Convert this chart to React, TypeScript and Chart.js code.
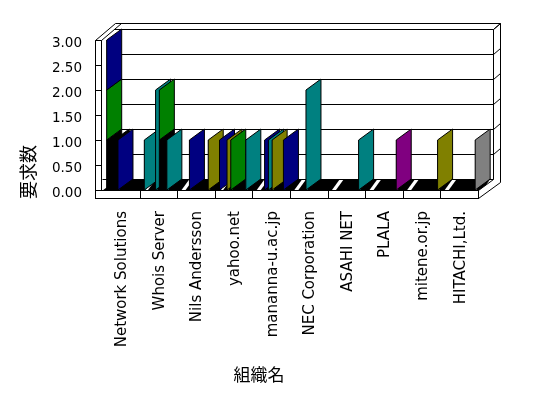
import React, { useEffect, useRef } from "react";
import { Chart, registerables } from "chart.js";

Chart.register(...registerables);

// ---------- data ----------
const categories = [
  "Network Solutions",
  "Whois Server",
  "Nils Andersson",
  "yahoo.net",
  "mananna-u.ac.jp",
  "NEC Corporation",
  "ASAHI NET",
  "PLALA",
  "mitene.or.jp",
  "HITACHI,Ltd.",
];
const yTicks = [0, 0.5, 1, 1.5, 2, 2.5, 3];
const yTitle = "要求数";
const xTitle = "組織名";

// values per category for each series (series grouped in depth slots s0..s9)
const emptySeries = [0, 0, 0, 0, 0, 0, 0, 0, 0, 0];
const s1Black = [1, 0, 0, 0, 0, 0, 0, 0, 0, 0];
const s1Green = [1, 0, 0, 0, 0, 0, 0, 0, 0, 0];
const s1Navy = [1, 0, 0, 1, 0, 0, 0, 0, 0, 0];
const s1Teal = [0, 1, 0, 0, 0, 0, 0, 0, 0, 0];
const s3Black = [1, 0, 0, 0, 0, 0, 0, 0, 0, 0];
const s3Navy = [0, 0, 1, 0, 1, 0, 0, 0, 0, 0];
const s3Olive = [0, 0, 0, 1, 0, 0, 0, 0, 0, 0];
const s4Navy = [1, 0, 0, 0, 0, 0, 0, 0, 0, 0];
const s4Teal = [0, 2, 0, 0, 1, 2, 0, 0, 0, 0];
const s4Green = [0, 0, 0, 1, 0, 0, 0, 0, 0, 0];
const s5Black = [0, 1, 0, 0, 0, 0, 0, 0, 0, 0];
const s5Green = [0, 1, 0, 0, 0, 0, 0, 0, 0, 0];
const s5Olive = [0, 0, 0, 0, 1, 0, 0, 0, 0, 0];
const s7Teal = [0, 1, 0, 0, 0, 0, 0, 0, 0, 0];
const s8Olive = [0, 0, 1, 0, 0, 0, 0, 0, 0, 0];
const s8Teal = [0, 0, 0, 1, 0, 0, 1, 0, 0, 0];
const s8Navy = [0, 0, 0, 0, 1, 0, 0, 0, 0, 0];
const s8Purple = [0, 0, 0, 0, 0, 0, 0, 1, 0, 0];
const s9Olive = [0, 0, 0, 0, 0, 0, 0, 0, 1, 0];
const s9Gray = [0, 0, 0, 0, 0, 0, 0, 0, 0, 1];

// ---------- styles ----------
const COL = {
  none: "rgba(0,0,0,0)",
  black: "#000000",
  green: "#008000",
  navy: "#000080",
  teal: "#008080",
  olive: "#808000",
  purple: "#800080",
  gray: "#808080",
};

const seriesTable: [string, string, number[]][] = [
  ["s0", COL.none, emptySeries],
  ["s1", COL.black, s1Black],
  ["s1", COL.green, s1Green],
  ["s1", COL.navy, s1Navy],
  ["s1", COL.teal, s1Teal],
  ["s2", COL.none, emptySeries],
  ["s3", COL.black, s3Black],
  ["s3", COL.navy, s3Navy],
  ["s3", COL.olive, s3Olive],
  ["s4", COL.navy, s4Navy],
  ["s4", COL.teal, s4Teal],
  ["s4", COL.green, s4Green],
  ["s5", COL.black, s5Black],
  ["s5", COL.green, s5Green],
  ["s5", COL.olive, s5Olive],
  ["s6", COL.none, emptySeries],
  ["s7", COL.teal, s7Teal],
  ["s8", COL.olive, s8Olive],
  ["s8", COL.teal, s8Teal],
  ["s8", COL.navy, s8Navy],
  ["s8", COL.purple, s8Purple],
  ["s9", COL.olive, s9Olive],
  ["s9", COL.gray, s9Gray],
];

const DX = 15; // depth offset x
const DY = 11; // depth offset y (upwards)
const TX = 7; // wall thickness x
const TY = 6; // wall thickness y
const WALL = 6; // left wall thickness
const FLOOR = 8; // floor slab thickness

const line = (ctx: CanvasRenderingContext2D, x1: number, y1: number, x2: number, y2: number) => {
  ctx.beginPath();
  ctx.moveTo(x1, y1);
  ctx.lineTo(x2, y2);
  ctx.stroke();
};
const poly = (ctx: CanvasRenderingContext2D, pts: number[][], fill?: string, stroke = true) => {
  ctx.beginPath();
  ctx.moveTo(pts[0][0], pts[0][1]);
  for (let i = 1; i < pts.length; i++) ctx.lineTo(pts[i][0], pts[i][1]);
  ctx.closePath();
  if (fill) {
    ctx.fillStyle = fill;
    ctx.fill();
  }
  if (stroke) ctx.stroke();
};

const threeD = {
  id: "threeD",
  beforeDatasetsDraw(chart: any) {
    const { ctx, chartArea: a, scales } = chart;
    const ys = scales.y;
    const L = Math.round(a.left) + 0.5;
    const R = Math.round(a.right) + 0.5;
    const T = Math.round(a.top) + 0.5;
    const B = Math.round(a.bottom) + 0.5;
    const bl = L + DX, br = R + DX, bt = T - DY, bb = B - DY;
    const wo = L - WALL - 1; // left wall outer x
    const wi = L - 1; // left wall inner x
    ctx.save();
    ctx.lineWidth = 1;
    ctx.strokeStyle = "#000";
    // back wall face
    ctx.fillStyle = "#fff";
    ctx.fillRect(bl, bt, br - bl, bb - bt);
    for (const v of yTicks) {
      if (v === 0) continue;
      const gy = Math.round(ys.getPixelForValue(v)) + 0.5 - DY;
      line(ctx, wi + 13, gy, br, gy);
      line(ctx, br, gy, br + TX, gy - TY);
    }
    // back wall top & right thickness
    line(ctx, wo, T, wo + DX + TX - 2, bt - TY);
    line(ctx, wi, T, wi + DX + TX - 2, bt - TY);
    line(ctx, wo + DX + TX - 2, bt - TY, br + TX, bt - TY);
    line(ctx, br, bt, br + TX, bt - TY);
    line(ctx, br + TX, bt - TY, br + TX, B + FLOOR - DY - TY + 1);
    line(ctx, br, bt, br, bb);
    // left wall
    line(ctx, wo, T, wi, T);
    line(ctx, wo, T, wo, B + FLOOR);
    line(ctx, wi, T, wi, B);
    for (const v of yTicks) {
      const ty = Math.round(ys.getPixelForValue(v)) + 0.5;
      line(ctx, wo, ty, wi, ty);
    }
    // floor (black band with white gaps between categories)
    poly(ctx, [[L, B], [R, B], [R + DX, bb], [L + DX, bb]], "#000", false);
    const n = categories.length;
    const cw = (a.right - a.left) / n;
    ctx.fillStyle = "#fff";
    for (let i = 1; i <= n; i++) {
      const xi = a.left + i * cw;
      poly(ctx, [[xi + 4, B], [xi + 8, B], [xi + 16, bb], [xi + 12, bb]], "#fff", false);
    }
    line(ctx, L, bb, br, bb);
    // floor front face
    ctx.fillStyle = "#fff";
    ctx.fillRect(wo, B, R - wo, FLOOR);
    ctx.strokeRect(wo, B, R - wo, FLOOR);
    for (let i = 1; i < n; i++) {
      const xi = Math.round(a.left + i * cw) + 0.5;
      line(ctx, xi, B, xi, B + FLOOR);
    }
    // floor right face
    line(ctx, R, B + FLOOR, br + TX, B + FLOOR - DY - TY + 1);
    line(ctx, R, B, br, bb);
    ctx.restore();
  },
  afterDatasetsDraw(chart: any) {
    const { ctx } = chart;
    const items: any[] = [];
    chart.data.datasets.forEach((ds: any, di: number) => {
      const meta = chart.getDatasetMeta(di);
      meta.data.forEach((el: any, i: number) => {
        const v = ds.data[i];
        if (!v) return;
        const p = el.getProps(["x", "y", "base", "width"], true);
        items.push({ x: p.x - p.width / 2, y: p.y, base: p.base, color: ds.backgroundColor });
      });
    });
    items.sort((p, q) => p.x - q.x || q.base - p.base);
    ctx.save();
    ctx.lineWidth = 1;
    ctx.strokeStyle = "#000";
    for (const it of items) {
      const x = it.x;
      poly(ctx, [
        [x, it.y],
        [x + DX, it.y - DY],
        [x + DX, it.base - DY],
        [x, it.base],
      ], it.color);
    }
    ctx.restore();
  },
  afterDraw(chart: any) {
    const { ctx } = chart;
    ctx.save();
    ctx.fillStyle = "#000";
    ctx.font = '17px "Noto Sans CJK JP"';
    ctx.textAlign = "center";
    ctx.textBaseline = "middle";
    ctx.fillText(xTitle, 259, 375);
    ctx.font = '18px "Noto Sans CJK JP"';
    ctx.translate(28, 172);
    ctx.rotate(-Math.PI / 2);
    ctx.fillText(yTitle, 0, 0);
    ctx.restore();
  },
};

export default function App() {
  const ref = useRef<HTMLCanvasElement | null>(null);
  useEffect(() => {
    if (!ref.current) return;
    const chart = new Chart(ref.current, {
      type: "bar",
      data: {
        labels: categories,
        datasets: seriesTable.map(([stack, color, data]) => ({
          stack,
          data,
          backgroundColor: color,
          borderWidth: 0,
          categoryPercentage: 1,
          barPercentage: 0.5,
        })),
      },
      options: {
        responsive: false,
        animation: false,
        events: [],
        devicePixelRatio: 1,
        layout: { padding: { top: 40, right: 70, left: 0, bottom: 0 } },
        plugins: { legend: { display: false }, tooltip: { enabled: false }, title: { display: false } },
        scales: {
          x: {
            grid: { display: false, drawTicks: false },
            border: { display: false },
            ticks: {
              autoSkip: false,
              minRotation: 90,
              maxRotation: 90,
              padding: 21,
              labelOffset: 1.5,
              color: "#000",
              font: { family: "DejaVu Sans", size: 15 },
            },
            afterFit: (s: any) => {
              s.height = 208;
            },
          },
          y: {
            stacked: true,
            min: 0,
            max: 3,
            grid: { display: false, drawTicks: false },
            border: { display: false },
            afterBuildTicks: (s: any) => {
              s.ticks = yTicks.map((v) => ({ value: v }));
            },
            ticks: {
              padding: 20,
              labelOffset: 3,
              color: "#000",
              font: { family: "DejaVu Sans", size: 13.5 },
              callback: (v: any) => Number(v).toFixed(2),
            },
            afterFit: (s: any) => {
              s.width = 102;
            },
          },
        },
      },
      plugins: [threeD],
    } as any);
    return () => chart.destroy();
  }, []);
  return (
    <div style={{ position: "fixed", left: 0, top: 0, width: 548, height: 398, background: "#fff" }}>
      <canvas ref={ref} width={548} height={398} style={{ display: "block" }} />
    </div>
  );
}
